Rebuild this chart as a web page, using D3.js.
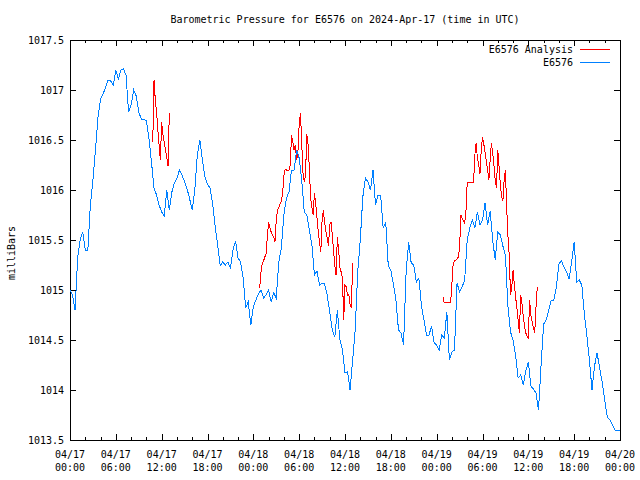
<!DOCTYPE html>
<html><head><meta charset="utf-8">
<script src="https://cdn.jsdelivr.net/npm/d3@7"></script>
<style>
body{margin:0;background:#fff}
svg text{font-family:"DejaVu Sans Mono","Liberation Mono",monospace;font-size:10px;fill:#000}
</style>
</head><body>
<svg id="chart" width="640" height="480"></svg>
<script>
// ---------- data ----------
const titleText = "Barometric Pressure for E6576 on 2024-Apr-17 (time in UTC)";
const yAxisLabel = "milliBars";
const seriesNames = ["E6576 Analysis", "E6576"];
const seriesColors = ["#ff0000", "#0080ff"];
const timeDomain = ["2024-04-17T00:00Z", "2024-04-20T00:00Z"];
const yDomain = [1013.5, 1017.5];
const yTickValues = [1013.5, 1014, 1014.5, 1015, 1015.5, 1016, 1016.5, 1017, 1017.5];

// station observations, one every 20 minutes from 04/17 00:00
const stationStart = "2024-04-17T00:00Z";
const stationStepMin = 20;
const stationValues = [
1015.00,1014.95,1014.80,1015.32,1015.50,1015.58,1015.40,1015.40,1015.85,1016.10,
1016.40,1016.73,1016.91,1016.96,1017.03,1017.10,1017.09,1017.05,1017.20,1017.11,
1017.20,1017.21,1017.15,1016.78,1016.85,1017.00,1016.94,1016.78,1016.71,1016.71,
1016.69,1016.52,1016.28,1016.02,1015.95,1015.85,1015.78,1015.74,1016.00,1015.80,
1015.98,1016.07,1016.12,1016.20,1016.15,1016.08,1016.01,1015.91,1015.80,1016.00,
1016.35,1016.50,1016.30,1016.13,1016.06,1016.02,1015.87,1015.64,1015.45,1015.24,
1015.28,1015.25,1015.28,1015.22,1015.40,1015.49,1015.32,1015.28,1015.12,1014.82,
1014.88,1014.65,1014.83,1014.90,1014.96,1015.00,1014.92,1014.95,1015.00,1014.88,
1014.97,1014.92,1015.28,1015.42,1015.75,1015.92,1015.98,1016.20,1016.20,1016.40,
1016.32,1016.10,1015.78,1015.75,1015.60,1015.45,1015.15,1015.19,1015.05,1015.07,
1015.06,1014.95,1014.78,1014.60,1014.53,1014.80,1014.50,1014.40,1014.17,1014.18,
1014.00,1014.30,1014.60,1015.18,1015.50,1015.93,1016.12,1016.08,1016.00,1016.20,
1015.85,1015.95,1015.95,1015.62,1015.68,1015.24,1015.20,1015.06,1014.90,1014.60,
1014.57,1014.45,1015.18,1015.48,1015.27,1015.25,1015.08,1015.12,1014.85,1014.70,
1014.55,1014.55,1014.64,1014.47,1014.45,1014.40,1014.55,1014.52,1014.78,1014.30,
1014.38,1014.40,1015.07,1014.98,1015.03,1015.10,1015.50,1015.62,1015.70,1015.62,
1015.78,1015.65,1015.70,1015.87,1015.65,1015.79,1015.50,1015.30,1015.58,1015.55,
1015.44,1015.35,1014.83,1014.58,1014.50,1014.35,1014.12,1014.15,1014.05,1014.19,
1014.28,1014.04,1014.01,1013.97,1013.80,1014.25,1014.66,1014.70,1014.80,1014.90,
1014.90,1015.03,1015.26,1015.29,1015.23,1015.18,1015.11,1015.28,1015.48,1015.08,
1015.10,1015.05,1014.76,1014.54,1014.30,1014.00,1014.24,1014.37,1014.22,1014.08,
1013.90,1013.73,1013.70,1013.65,1013.60,1013.60,1013.60
];

// analysis segments, one value every 10 minutes
const analysisStepMin = 10;
const analysis1Start = "2024-04-17T10:50Z";
const analysis1 = [1016.48,1017.10,1016.90,1016.78,1016.60,1016.45,1016.30,1016.68,1016.55,1016.48,
1016.40,1016.33,1016.24,1016.77];
const analysis2Start = "2024-04-18T00:50Z";
const analysis2 = [1015.02,1015.18,1015.26,1015.29,1015.33,1015.36,1015.53,1015.68,1015.62,1015.58,
1015.55,1015.53,1015.48,1015.70,1015.80,1015.82,1015.86,1015.89,1015.96,1016.14,
1016.21,1016.20,1016.20,1016.20,1016.25,1016.55,1016.48,1016.40,1016.45,1016.30,
1016.38,1016.65,1016.77,1016.47,1016.17,1016.08,1016.15,1016.56,1016.45,1016.22,
1015.92,1015.83,1015.75,1015.97,1015.86,1015.72,1015.58,1015.48,1015.38,1015.70,
1015.80,1015.67,1015.59,1015.52,1015.44,1015.65,1015.68,1015.56,1015.39,1015.25,
1015.15,1015.53,1015.40,1015.22,1015.18,1015.12,1014.70,1015.05,1015.03,1014.95,
1014.96,1014.85,1014.82,1015.27];
const analysis3Start = "2024-04-19T00:50Z";
const analysis3 = [1014.93,1014.87,1014.88,1014.88,1014.88,1014.88,1014.88,1015.07,1015.27,1015.29,
1015.30,1015.31,1015.33,1015.42,1015.75,1015.72,1015.69,1015.67,1015.78,1016.08,
1016.08,1016.08,1016.08,1016.08,1016.08,1016.35,1016.47,1016.32,1016.26,1016.16,
1016.40,1016.53,1016.46,1016.38,1016.29,1016.20,1016.10,1016.30,1016.47,1016.37,
1016.25,1016.09,1016.02,1016.40,1016.24,1016.06,1015.93,1015.89,1016.10,1016.20,
1015.82,1015.54,1015.35,1014.95,1015.03,1015.20,1015.05,1014.93,1014.82,1014.70,
1014.57,1014.95,1014.86,1014.74,1014.64,1014.57,1014.54,1014.52,1014.90,1014.75,
1014.68,1014.62,1014.57,1014.82,1015.03];

// ---------- build ----------
function toSeries(start, stepMin, vals){
  const t0 = new Date(start).getTime();
  return vals.map((v,i)=>({t:new Date(t0 + i*stepMin*60000), v}));
}
const station = toSeries(stationStart, stationStepMin, stationValues);
const analysisSegs = [
  toSeries(analysis1Start, analysisStepMin, analysis1),
  toSeries(analysis2Start, analysisStepMin, analysis2),
  toSeries(analysis3Start, analysisStepMin, analysis3)
];

const L=70, R=620, T=40, B=440;
const svg = d3.select("#chart");
const x = d3.scaleUtc().domain(timeDomain.map(d=>new Date(d))).range([L,R]);
const y = d3.scaleLinear().domain(yDomain).range([B,T]);

function styleAxis(g){
  g.select(".domain").remove();
  g.selectAll("line").attr("stroke","#000").attr("shape-rendering","crispEdges");
  g.attr("font-family",null).attr("font-size",null);
}

// bottom / top minor ticks (2 h) and major ticks (6 h)
svg.append("g").attr("transform",`translate(0,${B})`)
  .call(d3.axisBottom(x).ticks(d3.utcHour.every(2)).tickSize(-3).tickFormat(""))
  .call(styleAxis);
svg.append("g").attr("transform",`translate(0,${B})`)
  .call(d3.axisBottom(x).ticks(d3.utcHour.every(6)).tickSize(-6).tickFormat(""))
  .call(styleAxis);
svg.append("g").attr("transform",`translate(0,${T})`)
  .call(d3.axisTop(x).ticks(d3.utcHour.every(2)).tickSize(-3).tickFormat(""))
  .call(styleAxis);
svg.append("g").attr("transform",`translate(0,${T})`)
  .call(d3.axisTop(x).ticks(d3.utcHour.every(6)).tickSize(-6).tickFormat(""))
  .call(styleAxis);

// x labels, two lines
const fmtDay = d3.utcFormat("%m/%d"), fmtHour = d3.utcFormat("%H:%M");
const xl = svg.append("g").selectAll("text").data(x.ticks(d3.utcHour.every(6))).join("text")
  .attr("text-anchor","middle").attr("x",d=>x(d));
xl.append("tspan").attr("x",d=>x(d)).attr("y",458).text(d=>fmtDay(d));
xl.append("tspan").attr("x",d=>x(d)).attr("y",471).text(d=>fmtHour(d));

// y axes
svg.append("g").attr("transform",`translate(${L},0)`)
  .call(d3.axisLeft(y).tickValues(yTickValues).tickSize(-6).tickPadding(6).tickFormat(d=>String(d)))
  .call(styleAxis);
svg.append("g").attr("transform",`translate(${R},0)`)
  .call(d3.axisRight(y).tickValues(yTickValues).tickSize(-6).tickFormat(""))
  .call(styleAxis);

// frame
svg.append("rect").attr("x",L+0.5).attr("y",T+0.5).attr("width",R-L).attr("height",B-T)
  .attr("fill","none").attr("stroke","#000").attr("shape-rendering","crispEdges");

// lines
const line = d3.line().x(d=>x(d.t)).y(d=>y(d.v));
svg.append("g").selectAll("path").data(analysisSegs).join("path")
  .attr("d",line).attr("fill","none").attr("stroke",seriesColors[0]).attr("stroke-width",1)
  .attr("shape-rendering","crispEdges");
svg.append("path").datum(station).attr("d",line)
  .attr("fill","none").attr("stroke",seriesColors[1]).attr("stroke-width",1)
  .attr("shape-rendering","crispEdges");

// title & y label
svg.append("text").attr("x",345).attr("y",23).attr("text-anchor","middle").text(titleText);
svg.append("text").attr("transform","translate(15,253) rotate(-90)").attr("text-anchor","middle").text(yAxisLabel);

// legend
const lg = svg.append("g").selectAll("g").data(seriesNames).join("g")
  .attr("transform",(d,i)=>`translate(0,${49+i*13})`);
lg.append("text").attr("x",573).attr("y",0).attr("dy","0.35em").attr("text-anchor","end").text(d=>d);
lg.append("line").attr("x1",580).attr("x2",610).attr("y1",0.5).attr("y2",0.5)
  .attr("stroke",(d,i)=>seriesColors[i]).attr("shape-rendering","crispEdges");
</script>
</body></html>
